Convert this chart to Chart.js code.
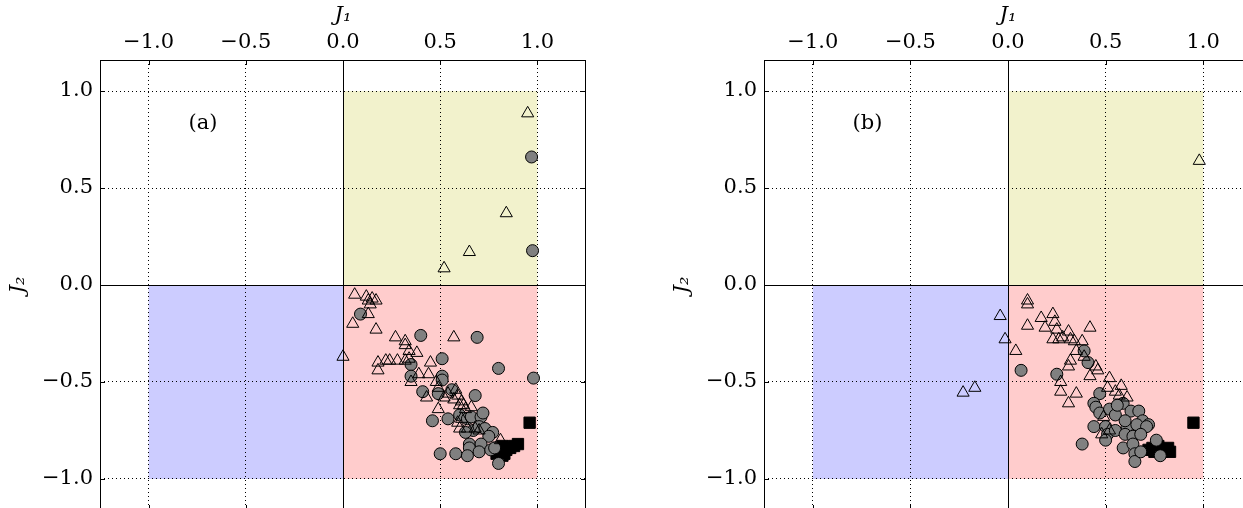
<!DOCTYPE html>
<html>
<head>
<meta charset="utf-8">
<script src="https://cdn.jsdelivr.net/npm/chart.js@4.4.1/dist/chart.umd.min.js"></script>
<style>
    html, body { margin: 0; padding: 0; background: #fff; }
    body { width: 1243px; height: 508px; overflow: hidden; position: relative; }
    canvas { position: absolute; top: 0; }
    #painelA { left: 0; }
    #painelB { left: 664px; }
</style>
</head>
<body>
<canvas id="painelA" width="620" height="530"></canvas>
<canvas id="painelB" width="600" height="530"></canvas>
<script>
// Valores dos eixos
const TICKS = [-1.0, -0.5, 0.0, 0.5, 1.0];

// Painel (a)
const A_TRI_X = [0.06, 0.12, 0.13, 0.15, 0.17, 0.14, 0.13, 0.05, 0.17, 0.27, 0.32, 0.32, 0.34, 0.38, 0.00, 0.57, 0.18, 0.18, 0.22, 0.24, 0.28, 0.32, 0.34, 0.45, 0.44, 0.39, 0.35, 0.43, 0.48, 0.49, 0.52, 0.54, 0.57, 0.58, 0.59, 0.60, 0.61, 0.62, 0.63, 0.66, 0.49, 0.59, 0.61, 0.60, 0.81, 0.64, 0.68, 0.70, 0.95, 0.84, 0.65, 0.52];
const A_TRI_Y = [-0.05, -0.06, -0.08, -0.07, -0.08, -0.10, -0.15, -0.20, -0.23, -0.27, -0.29, -0.31, -0.34, -0.35, -0.37, -0.27, -0.40, -0.44, -0.39, -0.39, -0.39, -0.39, -0.38, -0.40, -0.46, -0.46, -0.50, -0.58, -0.50, -0.53, -0.58, -0.56, -0.59, -0.54, -0.57, -0.62, -0.60, -0.62, -0.64, -0.63, -0.64, -0.71, -0.69, -0.74, -0.80, -0.74, -0.74, -0.75, 0.885, 0.37, 0.17, 0.086];
const A_CIR_X = [0.09, 0.40, 0.69, 0.51, 0.80, 0.98, 0.35, 0.35, 0.51, 0.51, 0.41, 0.49, 0.56, 0.68, 0.46, 0.54, 0.60, 0.64, 0.66, 0.71, 0.72, 0.67, 0.63, 0.70, 0.73, 0.77, 0.75, 0.65, 0.65, 0.71, 0.70, 0.76, 0.64, 0.58, 0.50, 0.80, 0.78, 0.97, 0.975];
const A_CIR_Y = [-0.15, -0.26, -0.27, -0.38, -0.43, -0.48, -0.41, -0.47, -0.47, -0.49, -0.55, -0.56, -0.54, -0.57, -0.70, -0.69, -0.67, -0.69, -0.68, -0.68, -0.66, -0.75, -0.76, -0.73, -0.74, -0.76, -0.78, -0.82, -0.84, -0.82, -0.86, -0.85, -0.88, -0.87, -0.87, -0.92, -0.84, 0.66, 0.177];
const A_SQ_X = [0.96, 0.90, 0.86, 0.82, 0.81, 0.83, 0.84, 0.80, 0.82, 0.88, 0.79];
const A_SQ_Y = [-0.71, -0.82, -0.84, -0.83, -0.86, -0.87, -0.85, -0.84, -0.88, -0.83, -0.87];

// Painel (b)
const B_TRI_X = [0.10, 0.10, -0.04, 0.17, 0.23, 0.24, 0.10, 0.19, 0.25, 0.42, -0.015, 0.23, 0.26, 0.28, 0.31, 0.32, 0.34, 0.38, 0.04, 0.35, 0.39, 0.32, 0.31, 0.45, 0.46, 0.42, 0.52, 0.58, 0.27, 0.27, 0.31, 0.35, 0.51, 0.55, 0.57, 0.61, 0.49, 0.48, 0.52, -0.23, -0.17, 0.98];
const B_TRI_Y = [-0.08, -0.10, -0.16, -0.17, -0.15, -0.19, -0.21, -0.22, -0.23, -0.22, -0.28, -0.28, -0.28, -0.27, -0.24, -0.28, -0.29, -0.29, -0.34, -0.34, -0.37, -0.39, -0.42, -0.42, -0.44, -0.47, -0.48, -0.52, -0.50, -0.55, -0.61, -0.56, -0.53, -0.55, -0.57, -0.58, -0.68, -0.77, -0.75, -0.555, -0.53, 0.64];
const B_CIR_X = [0.067, 0.25, 0.39, 0.41, 0.47, 0.44, 0.45, 0.47, 0.52, 0.55, 0.59, 0.63, 0.67, 0.69, 0.72, 0.44, 0.50, 0.51, 0.55, 0.50, 0.61, 0.66, 0.71, 0.60, 0.64, 0.68, 0.38, 0.59, 0.64, 0.65, 0.65, 0.68, 0.76, 0.78, 0.60, 0.56];
const B_CIR_Y = [-0.44, -0.46, -0.34, -0.40, -0.56, -0.61, -0.63, -0.66, -0.64, -0.67, -0.61, -0.65, -0.65, -0.70, -0.72, -0.73, -0.73, -0.77, -0.75, -0.80, -0.73, -0.72, -0.73, -0.77, -0.78, -0.77, -0.82, -0.84, -0.82, -0.87, -0.91, -0.86, -0.80, -0.88, -0.70, -0.62];
const B_SQ_X = [0.95, 0.72, 0.74, 0.77, 0.82, 0.83, 0.79, 0.75, 0.80];
const B_SQ_Y = [-0.71, -0.85, -0.84, -0.83, -0.84, -0.86, -0.86, -0.86, -0.85];

// Regiões coloridas (quadrantes)
const REGIOES = [
    { x0: 0, x1: 1, y0: 0, y1: 1, cor: '#f2f2cc' },
    { x0: -1, x1: 0, y0: -1, y1: 0, cor: '#ccccff' },
    { x0: 0, x1: 1, y0: -1, y1: 0, cor: '#ffcccc' }
];

const FONTE = 'DejaVu Serif';

function pontos(xs, ys) {
    return xs.map((x, i) => ({ x: x, y: ys[i] }));
}

function formatarTick(v) {
    return (v < 0 ? '\u2212' : '') + Math.abs(v).toFixed(1);
}

const pluginQuadrantes = {
    id: 'quadrantes',
    beforeDraw(chart) {
        const { ctx, scales: { x, y } } = chart;
        ctx.save();
        REGIOES.forEach(r => {
            const px0 = x.getPixelForValue(r.x0), px1 = x.getPixelForValue(r.x1);
            const py0 = y.getPixelForValue(r.y0), py1 = y.getPixelForValue(r.y1);
            ctx.fillStyle = r.cor;
            ctx.fillRect(px0, py1, px1 - px0, py0 - py1);
        });
        ctx.restore();
    },
    beforeDatasetsDraw(chart) {
        // linhas em x=0 e y=0
        const { ctx, chartArea: a, scales: { x, y } } = chart;
        const px = Math.round(x.getPixelForValue(0)) + 0.5;
        const py = Math.round(y.getPixelForValue(0)) + 0.5;
        ctx.save();
        ctx.strokeStyle = '#000';
        ctx.lineWidth = 1;
        ctx.beginPath();
        ctx.moveTo(px, a.top); ctx.lineTo(px, a.bottom);
        ctx.moveTo(a.left, py); ctx.lineTo(a.right, py);
        ctx.stroke();
        ctx.restore();
    },
    afterDraw(chart) {
        const { ctx, chartArea: a, scales: { x, y } } = chart;
        ctx.save();
        ctx.strokeStyle = '#000';
        ctx.lineWidth = 1;
        ctx.strokeRect(a.left + 0.5, a.top + 0.5, a.right - a.left - 1, a.bottom - a.top - 1);
        // ticks para dentro
        ctx.beginPath();
        TICKS.forEach(t => {
            const px = Math.round(x.getPixelForValue(t)) + 0.5;
            const py = Math.round(y.getPixelForValue(t)) + 0.5;
            ctx.moveTo(px, a.top); ctx.lineTo(px, a.top + 5);
            ctx.moveTo(px, a.bottom); ctx.lineTo(px, a.bottom - 5);
            ctx.moveTo(a.left, py); ctx.lineTo(a.left + 5, py);
            ctx.moveTo(a.right, py); ctx.lineTo(a.right - 5, py);
        });
        ctx.stroke();
        // rótulo do painel
        const rotulo = chart.options.plugins.quadrantes.rotulo;
        ctx.fillStyle = '#000';
        ctx.font = '21px "' + FONTE + '"';
        ctx.textAlign = 'center';
        ctx.textBaseline = 'middle';
        ctx.fillText(rotulo, x.getPixelForValue(-0.72), y.getPixelForValue(0.83));
        ctx.restore();
    }
};

function criarPainel(id, rotulo, tri, cir, sq, padRight) {
    const ctx = document.getElementById(id).getContext('2d');
    new Chart(ctx, {
        type: 'scatter',
        data: {
            datasets: [
                {
                    data: tri,
                    pointStyle: 'triangle',
                    pointRadius: 7,
                    backgroundColor: 'rgba(0,0,0,0)',
                    borderColor: '#000',
                    borderWidth: 1
                },
                {
                    data: cir,
                    pointStyle: 'circle',
                    pointRadius: 6,
                    backgroundColor: '#808080',
                    borderColor: '#000',
                    borderWidth: 1
                },
                {
                    data: sq,
                    pointStyle: 'rect',
                    pointRadius: 8,
                    backgroundColor: '#000',
                    borderColor: '#000',
                    borderWidth: 1
                }
            ]
        },
        options: {
            responsive: false,
            animation: false,
            layout: { padding: { left: 0, top: 0, right: padRight, bottom: 20 } },
            plugins: {
                legend: { display: false },
                tooltip: { enabled: false },
                quadrantes: { rotulo: rotulo }
            },
            scales: {
                x: {
                    type: 'linear',
                    position: 'top',
                    min: -1.25,
                    max: 1.25,
                    afterBuildTicks: s => { s.ticks = TICKS.map(v => ({ value: v })); },
                    afterFit: s => { s.height = 60; },
                    grid: { color: '#000', lineWidth: 1, drawTicks: false },
                    border: { display: false, dash: [1, 3] },
                    ticks: {
                        padding: 5,
                        color: '#000',
                        font: { family: FONTE, size: 21 },
                        callback: formatarTick
                    },
                    title: {
                        display: true,
                        text: 'J\u2081',
                        color: '#000',
                        padding: { top: 3, bottom: 0 },
                        font: { family: FONTE, size: 21, style: 'italic' }
                    }
                },
                y: {
                    type: 'linear',
                    position: 'left',
                    min: -1.16,
                    max: 1.16,
                    afterBuildTicks: s => { s.ticks = TICKS.map(v => ({ value: v })); },
                    afterFit: s => { s.width = 100; },
                    grid: { color: '#000', lineWidth: 1, drawTicks: false },
                    border: { display: false, dash: [1, 3] },
                    ticks: {
                        padding: 7,
                        color: '#000',
                        font: { family: FONTE, size: 21 },
                        callback: formatarTick
                    },
                    title: {
                        display: true,
                        text: 'J\u2082',
                        color: '#000',
                        padding: { top: 6, bottom: 0 },
                        font: { family: FONTE, size: 21, style: 'italic' }
                    }
                }
            }
        },
        plugins: [pluginQuadrantes]
    });
}

criarPainel('painelA', '(a)', pontos(A_TRI_X, A_TRI_Y), pontos(A_CIR_X, A_CIR_Y), pontos(A_SQ_X, A_SQ_Y), 34);
criarPainel('painelB', '(b)', pontos(B_TRI_X, B_TRI_Y), pontos(B_CIR_X, B_CIR_Y), pontos(B_SQ_X, B_SQ_Y), 12);
</script>
</body>
</html>
